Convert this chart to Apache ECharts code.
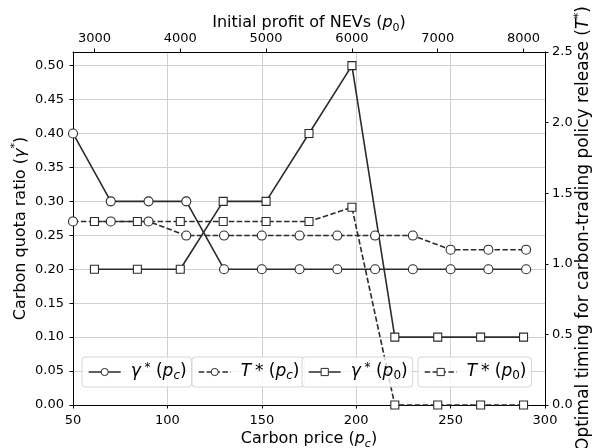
<!DOCTYPE html>
<html>
<head>
<meta charset="utf-8">
<script src="https://cdn.jsdelivr.net/npm/echarts@6/dist/echarts.min.js"></script>
<style>
  html, body { margin: 0; padding: 0; background: #fff; }
  #chart { width: 595px; height: 448px; }
</style>
</head>
<body>
<div id="chart"></div>
<script>
// bottom axis: carbon price
const carbonPrice = [50, 70, 90, 110, 130, 150, 170, 190, 210, 230, 250, 270, 290];
const gammaPc = [0.40, 0.30, 0.30, 0.30, 0.20, 0.20, 0.20, 0.20, 0.20, 0.20, 0.20, 0.20, 0.20];
const timingPc = [1.3, 1.3, 1.3, 1.2, 1.2, 1.2, 1.2, 1.2, 1.2, 1.2, 1.1, 1.1, 1.1];

// top axis: initial profit of NEVs
const initialProfit = [3000, 3500, 4000, 4500, 5000, 5500, 6000, 6500, 7000, 7500, 8000];
const gammaP0 = [0.20, 0.20, 0.20, 0.30, 0.30, 0.40, 0.50, 0.10, 0.10, 0.10, 0.10];
const timingP0 = [1.3, 1.3, 1.3, 1.3, 1.3, 1.3, 1.4, 0.0, 0.0, 0.0, 0.0];

const topTicks = [3000, 4000, 5000, 6000, 7000, 8000];
const leftTicks = [0, 0.05, 0.10, 0.15, 0.20, 0.25, 0.30, 0.35, 0.40, 0.45, 0.50];

const FONT = 'DejaVu Sans';
const INK = '#2b2b2b';

function richSet(size, lh) {
  const small = Math.round(size * 0.7);
  return {
    n: { fontFamily: FONT, fontSize: size, color: '#000', lineHeight: lh },
    i: { fontFamily: FONT, fontSize: size, fontStyle: 'italic', color: '#000', lineHeight: lh },
    sub: { fontFamily: FONT, fontSize: small, color: '#000', lineHeight: small, verticalAlign: 'bottom' },
    subi: { fontFamily: FONT, fontSize: small, fontStyle: 'italic', color: '#000', lineHeight: small, verticalAlign: 'bottom' },
    sup: { fontFamily: FONT, fontSize: small, color: '#000', lineHeight: small, verticalAlign: 'top' }
  };
}
const nameRich = richSet(16, 22);
const rightRich = richSet(17, 22);
const legendRich = richSet(17, 20);

const labels = {
  gpc: '{i|γ}{sup| *}{n| (}{i|p}{subi|c}{n|)}',
  tpc: '{i|T}{sup| }{n|* (}{i|p}{subi|c}{n|)}',
  gp0: '{i|γ}{sup| *}{n| (}{i|p}{sub|0}{n|)}',
  tp0: '{i|T}{sup| }{n|* (}{i|p}{sub|0}{n|)}'
};

const pairs = (xs, ys) => xs.map((x, k) => [x, ys[k]]);

const chart = echarts.init(document.getElementById('chart'), null, { renderer: 'canvas' });

function lineSeries(name, x, y, xi, yi, symbol, dashed) {
  return {
    name: name,
    type: 'line',
    xAxisIndex: xi,
    yAxisIndex: yi,
    data: pairs(x, y),
    symbol: symbol,
    symbolSize: symbol === 'circle' ? 9 : 8,
    showAllSymbols: true,
    lineStyle: { color: INK, width: 1.6, type: dashed ? [5.5, 2.4] : 'solid' },
    itemStyle: { color: '#fff', borderColor: INK, borderWidth: 1.1 },
    emphasis: { disabled: true }
  };
}

function legendBox(name, left) {
  return {
    data: [name],
    left: left,
    top: 357,
    height: 20,
    orient: 'horizontal',
    padding: [5, 5, 5, 6],
    itemWidth: 32,
    itemHeight: 9,
    itemGap: 0,
    borderColor: '#d6d6d6',
    borderWidth: 1,
    borderRadius: 3,
    backgroundColor: 'rgba(255,255,255,0.8)',
    itemStyle: { borderWidth: 1 },
    lineStyle: { width: 1.4 },
    formatter: n => labels[n],
    textStyle: { rich: legendRich, padding: [0, 0, 0, 5] }
  };
}

const tickStyle = { show: true, inside: false, length: 3.5, lineStyle: { color: '#000', width: 1 } };
const axisLineStyle = { show: true, onZero: false, lineStyle: { color: '#000', width: 1 } };
const labelStyle = { fontFamily: FONT, fontSize: 13, color: '#000' };

const option = {
  animation: false,
  backgroundColor: '#fff',
  grid: { left: 73, right: 50, top: 52, bottom: 43, containLabel: false, outerBoundsMode: 'none' },
  legend: [
    legendBox('gpc', 82),
    legendBox('tpc', 192),
    legendBox('gp0', 302),
    legendBox('tp0', 418)
  ],
  xAxis: [
    {
      type: 'value',
      position: 'bottom',
      min: 50,
      max: 300,
      interval: 50,
      name: '{n|Carbon price (}{i|p}{subi|c}{n|)}',
      nameLocation: 'middle',
      nameGap: 23,
      nameMoveOverlap: false,
      nameTextStyle: { rich: nameRich },
      axisLine: axisLineStyle,
      axisTick: tickStyle,
      axisLabel: Object.assign({ margin: 9 }, labelStyle),
      splitLine: { show: true, lineStyle: { color: '#cfcfcf', width: 1 } }
    },
    {
      type: 'value',
      position: 'top',
      min: 2750,
      max: 8250,
      name: '{n|Initial profit of NEVs (}{i|p}{sub|0}{n|)}',
      nameLocation: 'middle',
      nameGap: 18,
      nameMoveOverlap: false,
      nameTextStyle: { rich: nameRich },
      axisLine: axisLineStyle,
      axisTick: Object.assign({ customValues: topTicks }, tickStyle),
      axisLabel: Object.assign({ margin: 7, customValues: topTicks, formatter: v => String(v) }, labelStyle),
      splitLine: { show: false }
    }
  ],
  yAxis: [
    {
      type: 'value',
      position: 'left',
      min: 0,
      max: 0.52,
      interval: 0.05,
      name: '{n|Carbon quota ratio (}{i|γ}{sup|*}{n|)}',
      nameLocation: 'middle',
      nameRotate: 90,
      nameGap: 41,
      nameMoveOverlap: false,
      nameTextStyle: { rich: nameRich },
      axisLine: axisLineStyle,
      axisTick: Object.assign({ customValues: leftTicks }, tickStyle),
      axisLabel: Object.assign({ margin: 9, customValues: leftTicks, formatter: v => v.toFixed(2) }, labelStyle),
      splitLine: { show: true, lineStyle: { color: '#cfcfcf', width: 1 } }
    },
    {
      type: 'value',
      position: 'right',
      min: 0,
      max: 2.5,
      interval: 0.5,
      name: '{n|Optimal timing for carbon-trading policy release (}{i|T}{sup|*}{n|)}',
      nameLocation: 'middle',
      nameRotate: 90,
      nameGap: 28,
      nameMoveOverlap: false,
      nameTextStyle: { rich: rightRich },
      axisLine: axisLineStyle,
      axisTick: tickStyle,
      axisLabel: Object.assign({ margin: 7, formatter: v => v.toFixed(1) }, labelStyle),
      splitLine: { show: false }
    }
  ],
  series: [
    lineSeries('gpc', carbonPrice, gammaPc, 0, 0, 'circle', false),
    lineSeries('tpc', carbonPrice, timingPc, 0, 1, 'circle', true),
    lineSeries('gp0', initialProfit, gammaP0, 1, 0, 'rect', false),
    lineSeries('tp0', initialProfit, timingP0, 1, 1, 'rect', true)
  ]
};

chart.setOption(option);
</script>
</body>
</html>
